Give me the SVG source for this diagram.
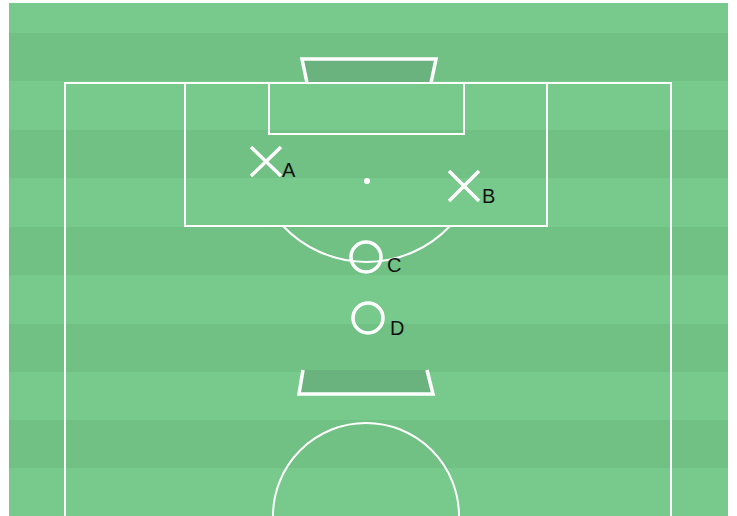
<svg xmlns="http://www.w3.org/2000/svg" width="737" height="516" viewBox="0 0 737 516">
  <style>
    .line { fill: none; stroke: #ffffff; stroke-width: 2; }
    .goal { fill: #6bb37e; stroke: #ffffff; stroke-width: 3; }
    .mark { fill: none; stroke: #ffffff; stroke-width: 3.5; }
    .lbl { font-family: "Liberation Sans", Arial, sans-serif; font-size: 20px; fill: #111111; }
    .dark { fill: #71c185; }
  </style>
  <rect x="0" y="0" width="737" height="516" fill="#ffffff"/>
  <g id="pitch">
    <rect x="9" y="3" width="719" height="513" fill="#77ca8b"/>
    <rect class="dark" x="9" y="33" width="719" height="48"/>
    <rect class="dark" x="9" y="130" width="719" height="48"/>
    <rect class="dark" x="9" y="227" width="719" height="48"/>
    <rect class="dark" x="9" y="324" width="719" height="48"/>
    <rect class="dark" x="9" y="420" width="719" height="48"/>
    <!-- top goal -->
    <path d="M307 83 L302 59 L436 59 L431 83 Z" fill="#6bb37e"/>
    <path class="mark" d="M307 83 L302 59 L436 59 L431 83" stroke-width="3"/>
    <!-- outer field lines -->
    <path class="line" d="M65 516 L65 83 L671 83 L671 516"/>
    <!-- penalty box -->
    <rect class="line" x="185" y="83" width="362" height="143"/>
    <!-- goal area -->
    <rect class="line" x="269" y="83" width="195" height="51"/>
    <!-- penalty spot -->
    <circle cx="367" cy="181" r="3" fill="#ffffff"/>
    <!-- penalty arc -->
    <path class="line" d="M283 226 A115 115 0 0 0 450 226"/>
    <!-- lower goal shape -->
    <path d="M303 370 L427 370 L433 394 L299 394 Z" fill="#6bb37e"/>
    <path class="mark" d="M303 370 L299 394 L433 394 L427 370" stroke-width="3"/>
    <!-- centre circle -->
    <path class="line" d="M273 516 A93 93 0 0 1 459 516"/>
  </g>
  <g id="connectors"></g>
  <g id="player-A">
    <path class="mark" d="M251 147 L281 176 M281 147 L251 176"/>
    <text class="lbl" x="282" y="177">A</text>
  </g>
  <g id="player-B">
    <path class="mark" d="M449 171 L479 201 M479 171 L449 201"/>
    <text class="lbl" x="482" y="203">B</text>
  </g>
  <g id="player-C">
    <circle class="mark" cx="366" cy="257" r="15"/>
    <text class="lbl" x="387" y="272">C</text>
  </g>
  <g id="player-D">
    <circle class="mark" cx="368" cy="318" r="15"/>
    <text class="lbl" x="390" y="335">D</text>
  </g>
</svg>
